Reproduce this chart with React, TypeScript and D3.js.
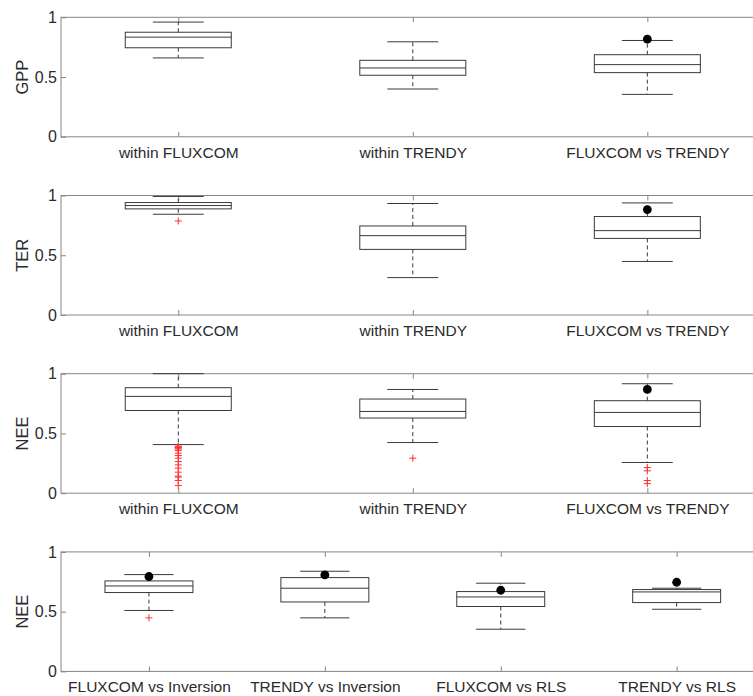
import React, { useEffect, useRef } from "react";
import * as d3 from "d3";

const W = 753;
const H = 696;

const yLabels = ["GPP", "TER", "NEE", "NEE"];
const groups3 = ["within FLUXCOM", "within TRENDY", "FLUXCOM vs TRENDY"];
const groups4 = ["FLUXCOM vs Inversion", "TRENDY vs Inversion", "FLUXCOM vs RLS", "TRENDY vs RLS"];

// [lower whisker, q1, median, q3, upper whisker] per group
const gppStats = [
  [0.66, 0.745, 0.834, 0.875, 0.96],
  [0.4, 0.515, 0.576, 0.64, 0.795],
  [0.355, 0.537, 0.604, 0.687, 0.806],
];
const terStats = [
  [0.843, 0.888, 0.916, 0.941, 0.992],
  [0.313, 0.549, 0.664, 0.745, 0.933],
  [0.448, 0.641, 0.706, 0.824, 0.938],
];
const neeStats = [
  [0.407, 0.692, 0.81, 0.883, 1.0],
  [0.424, 0.629, 0.684, 0.788, 0.868],
  [0.257, 0.558, 0.676, 0.774, 0.916],
];
const neeObsStats = [
  [0.51, 0.66, 0.715, 0.757, 0.81],
  [0.448, 0.581, 0.696, 0.785, 0.838],
  [0.353, 0.543, 0.623, 0.668, 0.738],
  [0.52, 0.576, 0.665, 0.685, 0.696],
];

// black dots (null = none)
const gppDots = [null, null, 0.817];
const terDots = [null, null, 0.882];
const neeDots = [null, null, 0.868];
const neeObsDots = [0.794, 0.807, 0.679, 0.746];

// red + outliers
const gppOut = [[], [], []];
const terOut = [[0.787], [], []];
const neeOut = [
  [0.394, 0.388, 0.382, 0.377, 0.37, 0.357, 0.335, 0.315, 0.293, 0.265, 0.237, 0.21, 0.176, 0.142, 0.135, 0.106, 0.064],
  [0.293],
  [0.215, 0.187, 0.106, 0.08],
];
const neeObsOut = [[0.448], [], [], []];

const panels = [
  { label: yLabels[0], cats: groups3, stats: gppStats, dots: gppDots, out: gppOut },
  { label: yLabels[1], cats: groups3, stats: terStats, dots: terDots, out: terOut },
  { label: yLabels[2], cats: groups3, stats: neeStats, dots: neeDots, out: neeOut },
  { label: yLabels[3], cats: groups4, stats: neeObsStats, dots: neeObsDots, out: neeObsOut },
];

const FONT = "'Liberation Sans', Arial, Helvetica, sans-serif";
const AXIS = "#868686";
const INK = "#3a3a3a";
const TXT = "#2b2b2b";

export default function App() {
  const svgRef = useRef<SVGSVGElement>(null);

  useEffect(() => {
    if (!svgRef.current) return;
    const svg = d3.select(svgRef.current);
    svg.selectAll("*").remove();

    const left = 61;
    const right = 764.6;
    const ph = 119.5;

    panels.forEach((p, pi) => {
      const top = 17.3 + pi * 178.2;
      const n = p.cats.length;
      const x = d3.scaleLinear().domain([0.5, n + 0.5]).range([left, right]);
      const y = d3.scaleLinear().domain([0, 1]).range([top + ph, top]);
      const step = x(2) - x(1);
      const bw = n === 3 ? step * 0.452 : step * 0.5;
      const cw = n === 3 ? bw * 0.48 : bw * 0.56;

      const g = svg.append("g");

      // frame (right side falls outside the picture, as in the original)
      g.append("rect")
        .attr("x", left)
        .attr("y", top)
        .attr("width", right - left)
        .attr("height", ph)
        .attr("fill", "none")
        .attr("stroke", AXIS)
        .attr("stroke-width", 1);

      const idx = d3.range(1, n + 1);

      const xb = g.append("g").attr("transform", `translate(0,${top + ph})`)
        .call(d3.axisBottom(x).tickValues(idx).tickFormat((d: any) => p.cats[d - 1]).tickSizeInner(-5).tickSizeOuter(0).tickPadding(10));
      xb.select(".domain").remove();
      xb.selectAll("line").attr("stroke", AXIS);
      xb.selectAll("text").attr("fill", TXT).style("font-size", "15.5px").style("font-family", FONT);

      const xt = g.append("g").attr("transform", `translate(0,${top})`)
        .call(d3.axisTop(x).tickValues(idx).tickFormat(() => "").tickSizeInner(-5).tickSizeOuter(0));
      xt.select(".domain").remove();
      xt.selectAll("line").attr("stroke", AXIS);

      const yl = g.append("g").attr("transform", `translate(${left},0)`)
        .call(d3.axisLeft(y).tickValues([0, 0.5, 1]).tickFormat(d3.format("")).tickSizeInner(-5).tickSizeOuter(0).tickPadding(4));
      yl.select(".domain").remove();
      yl.selectAll("line").attr("stroke", AXIS);
      yl.selectAll("text").attr("fill", TXT).style("font-size", "16px").style("font-family", FONT);

      g.append("text")
        .attr("transform", `translate(28,${top + ph / 2}) rotate(-90)`)
        .attr("text-anchor", "middle")
        .attr("fill", TXT)
        .style("font-size", "16.5px")
        .style("font-family", FONT)
        .text(p.label);

      p.stats.forEach((s, i) => {
        const cx = x(i + 1);
        const [lo, q1, md, q3, hi] = s;
        // whiskers
        g.append("line").attr("x1", cx).attr("x2", cx).attr("y1", y(q3)).attr("y2", y(hi))
          .attr("stroke", INK).attr("stroke-dasharray", "4,3");
        g.append("line").attr("x1", cx).attr("x2", cx).attr("y1", y(q1)).attr("y2", y(lo))
          .attr("stroke", INK).attr("stroke-dasharray", "4,3");
        [lo, hi].forEach((v) => {
          g.append("line").attr("x1", cx - cw / 2).attr("x2", cx + cw / 2).attr("y1", y(v)).attr("y2", y(v))
            .attr("stroke", INK);
        });
        g.append("rect")
          .attr("x", cx - bw / 2)
          .attr("y", y(q3))
          .attr("width", bw)
          .attr("height", y(q1) - y(q3))
          .attr("fill", "none")
          .attr("stroke", INK);
        g.append("line").attr("x1", cx - bw / 2).attr("x2", cx + bw / 2).attr("y1", y(md)).attr("y2", y(md))
          .attr("stroke", INK);

        p.out[i].forEach((v) => {
          g.append("path")
            .attr("d", `M${cx - 3.5},${y(v)}H${cx + 3.5}M${cx},${y(v) - 3.5}V${y(v) + 3.5}`)
            .attr("stroke", "#ff3030")
            .attr("stroke-width", 1)
            .attr("fill", "none");
        });

        const d = p.dots[i];
        if (d != null) {
          g.append("circle").attr("cx", cx).attr("cy", y(d)).attr("r", 4.4).attr("fill", "#000");
        }
      });
    });
  }, []);

  return (
    <div style={{ position: "absolute", left: 0, top: 0, width: W, height: H, background: "#fff" }}>
      <svg ref={svgRef} width={W} height={H} style={{ display: "block" }} />
    </div>
  );
}
